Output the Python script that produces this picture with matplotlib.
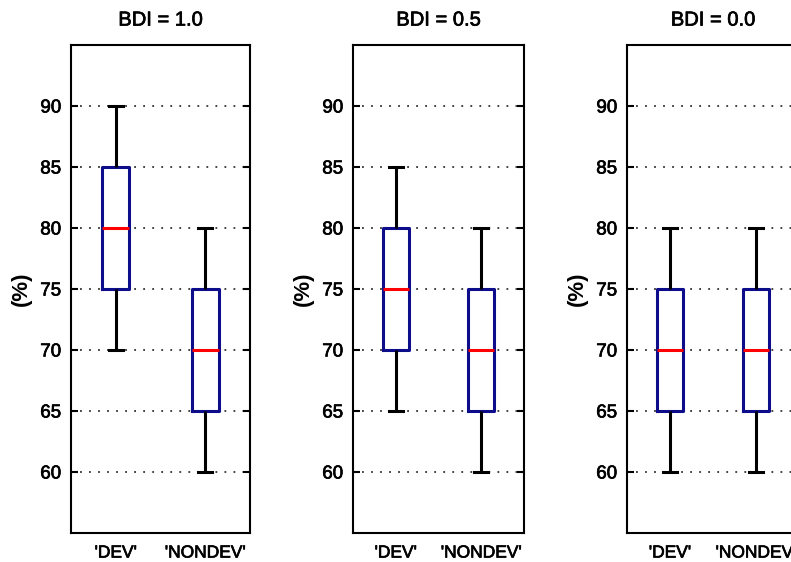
import matplotlib
matplotlib.use("Agg")
import matplotlib.pyplot as plt
import matplotlib.patheffects as pe

plt.rcParams['font.family'] = ['Liberation Sans', 'DejaVu Sans']

# Panel titles and group labels
titles = ["BDI = 1.0", "BDI = 0.5", "BDI = 0.0"]
groups = ["'DEV'", "'NONDEV'"]

# Five-number summaries (min, q1, median, q3, max) per panel: DEV, NONDEV
dev_min = [70, 65, 60]
dev_q1 = [75, 70, 65]
dev_med = [80, 75, 70]
dev_q3 = [85, 80, 75]
dev_max = [90, 85, 80]

nondev_min = [60, 60, 60]
nondev_q1 = [65, 65, 65]
nondev_med = [70, 70, 70]
nondev_q3 = [75, 75, 75]
nondev_max = [80, 80, 80]

yticks = [60, 65, 70, 75, 80, 85, 90]

W, H = 791, 562
fig = plt.figure(figsize=(W / 100, H / 100), dpi=100)

# axes extents in pixels: (left, width)
ax_px = [(71, 179), (353, 171), (627, 172)]
top_px, bot_px = 45, 533

box_color = (0.05, 0.05, 0.55)
heavy = [pe.withStroke(linewidth=0.5, foreground='black')]

for i, (left, width) in enumerate(ax_px):
    ax = fig.add_axes([left / W, (H - bot_px) / H, width / W, (bot_px - top_px) / H])
    stats = [
        dict(whislo=dev_min[i], q1=dev_q1[i], med=dev_med[i], q3=dev_q3[i],
             whishi=dev_max[i], fliers=[], label=groups[0]),
        dict(whislo=nondev_min[i], q1=nondev_q1[i], med=nondev_med[i], q3=nondev_q3[i],
             whishi=nondev_max[i], fliers=[], label=groups[1]),
    ]
    ax.bxp(stats, positions=[1, 2], widths=0.3, capwidths=0.16, showfliers=False,
           boxprops=dict(color=box_color, linewidth=2.2),
           medianprops=dict(color='red', linewidth=2.2),
           whiskerprops=dict(color='black', linewidth=2.2, solid_capstyle='butt'),
           capprops=dict(color='black', linewidth=2.2))
    ax.set_xlim(0.5, 2.5)
    ax.set_ylim(55, 95)
    ax.set_yticks(yticks)
    ax.set_xticks([1, 2])
    ax.set_xticklabels(groups, fontsize=12.5)
    ax.tick_params(axis='x', length=0, pad=9)
    ax.tick_params(axis='y', direction='in', length=5, width=1.5,
                   right=True, labelsize=13.5, pad=7)
    for lab in ax.get_xticklabels() + ax.get_yticklabels():
        lab.set_path_effects(heavy)
    ax.yaxis.grid(True, color='0.2', linewidth=1.3, linestyle=(0, (1, 4)))
    ax.set_axisbelow(True)
    for sp in ax.spines.values():
        sp.set_linewidth(1.5)
    t = ax.set_title(titles[i], fontsize=14.5, pad=14)
    t.set_path_effects(heavy)
    yl = ax.set_ylabel('(%)', fontsize=16, fontweight='bold')
    ax.yaxis.set_label_coords(-39 / width, 0.5)

fig.savefig('out.png', dpi=100)
